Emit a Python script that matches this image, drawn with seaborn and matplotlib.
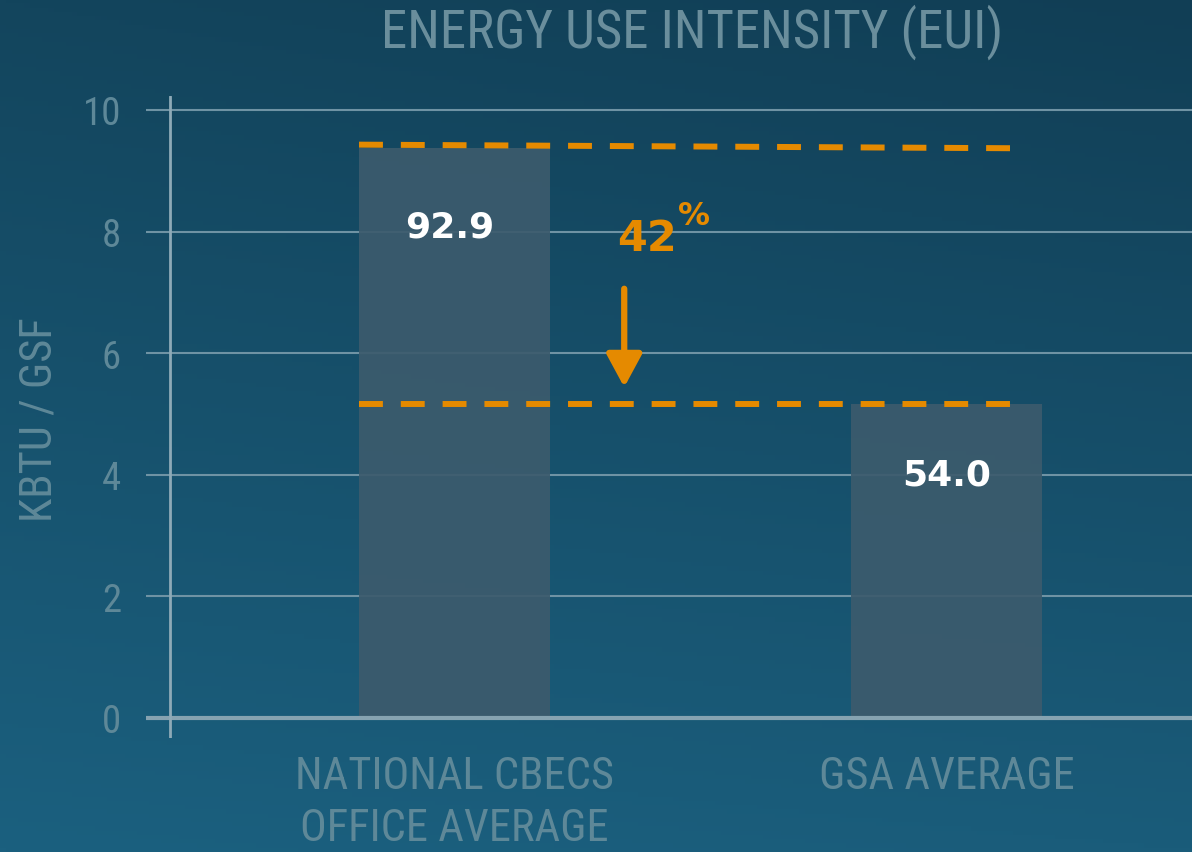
import numpy as np
import pandas as pd
import matplotlib
matplotlib.use("Agg")
import matplotlib.pyplot as plt
import seaborn as sns
from matplotlib.colors import to_rgb
from matplotlib import font_manager as fm

# ---- data ----
categories = ["NATIONAL CBECS\nOFFICE AVERAGE", "GSA AVERAGE"]
bar_heights = [9.38, 5.16]
value_labels = ["92.9", "54.0"]
top_line_levels = [9.43, 9.37]
bottom_line_levels = [5.16, 5.16]
reduction_label = "42"
yticks = [0, 2, 4, 6, 8, 10]
title = "ENERGY USE INTENSITY (EUI)"
ylabel = "KBTU / GSF"

sns.set_theme(style="white")
plt.rcParams['font.family'] = ['DejaVu Sans']


def pick_condensed():
    prefs = ['Roboto Condensed', 'Liberation Sans Narrow', 'Open Sans Condensed',
             'Noto Sans', 'DejaVu Sans', 'Open Sans', 'Roboto']
    found = {}
    for f in fm.fontManager.ttflist:
        fn = f.fname.lower()
        cond = ('condensed' in fn or 'narrow' in fn or 'condensed' in str(f.stretch))
        bad = any(k in fn for k in ['bold', 'italic', 'oblique', 'light', 'thin',
                                    'black', 'medium', 'semi', 'extra'])
        if cond and not bad and f.weight in (400, 'normal', 'regular'):
            found.setdefault(f.name, f.fname)
    for p in prefs:
        if p in found:
            return fm.FontProperties(fname=found[p])
    if found:
        return fm.FontProperties(fname=sorted(found.values())[0])
    return fm.FontProperties(family='Roboto')


cfont = pick_condensed()


def cf(size):
    fp = cfont.copy()
    fp.set_size(size)
    return fp


W, H = 1192, 853
fig = plt.figure(figsize=(W / 100, H / 100), dpi=100)

# background gradient
bg = fig.add_axes([0, 0, 1, 1])
bg.axis('off')
tl, tr = np.array(to_rgb('#13455d')), np.array(to_rgb('#113e55'))
bl, br = np.array(to_rgb('#1b607f')), np.array(to_rgb('#1a5c7a'))
u = np.linspace(0, 1, 200)[None, :, None]
v = np.linspace(0, 1, 200)[:, None, None]
img = (1 - v) * ((1 - u) * tl + u * tr) + v * ((1 - u) * bl + u * br)
bg.imshow(img, aspect='auto', extent=[0, 1, 0, 1], zorder=0)
bg.set_xlim(0, 1); bg.set_ylim(0, 1)

ax = fig.add_axes([146 / W, (H - 739) / H, (1192 - 146) / W, (739 - 97) / H])
ax.patch.set_alpha(0)

orange = '#e58a00'
muted = '#5e8898'

df = pd.DataFrame({'cat': categories, 'val': bar_heights})
sns.barplot(data=df, x='cat', y='val', color='#3c5b6d', width=0.388,
            saturation=1, linewidth=0, ax=ax, zorder=3, alpha=0.92)

ax.set_xlim(-0.627, 1.499)
ax.set_ylim(-0.329, 10.23)
for s in ax.spines.values():
    s.set_visible(False)

for y in yticks:
    if y == 0:
        ax.axhline(y, color='#86a3b1', lw=3, zorder=4)
    else:
        ax.axhline(y, color='#6f93a4', lw=1.5, zorder=1)
ax.axvline(-0.578, color='#8eaab7', lw=2, zorder=4)

ax.set_yticks(yticks)
ax.set_yticklabels([str(t) for t in yticks])
for lab in ax.get_yticklabels():
    lab.set_fontproperties(cf(28))
    lab.set_color(muted)
ax.tick_params(axis='y', length=0, pad=18)
ax.tick_params(axis='x', length=0, pad=12)
for lab in ax.get_xticklabels():
    lab.set_fontproperties(cf(32))
    lab.set_color(muted)
    lab.set_linespacing(1.3)
ax.set_xlabel('')
ax.set_ylabel('')

# dashed reference lines
x0 = -0.194
x1 = 1.153
ax.plot([x0, x1], top_line_levels, color=orange, lw=4.3,
        dashes=(4, 3), dash_capstyle='butt', zorder=5)
ax.plot([x0, x1], bottom_line_levels, color=orange, lw=4.3,
        dashes=(4, 3), dash_capstyle='butt', zorder=5)

# value labels
label_dx = [-0.01, 0.0]
label_dy = [1.3, 1.15]
for i, (h, lab) in enumerate(zip(bar_heights, value_labels)):
    ax.text(i + label_dx[i], h - label_dy[i], lab, ha='center', va='center',
            fontsize=26, color='white', fontweight='bold',
            family='DejaVu Sans', zorder=6)

# reduction annotation
ax.annotate('', xy=(0.345, 5.44), xytext=(0.345, 7.06),
            arrowprops=dict(arrowstyle='-|>,head_length=1.0,head_width=0.54',
                            color=orange, lw=4.5, mutation_scale=20,
                            shrinkA=0, shrinkB=0),
            zorder=6)
ax.text(0.452, 7.9, reduction_label, ha='right', va='center', fontsize=31,
        color=orange, fontweight='bold', family='DejaVu Sans', zorder=6)
ax.text(0.454, 8.27, '%', ha='left', va='center', fontsize=23,
        color=orange, fontweight='bold', family='DejaVu Sans', zorder=6)

fig.text(692 / W, 1 - 32 / H, title, ha='center', va='center',
         fontproperties=cf(38), color='#6a8e9c')
fig.text(40 / W, 1 - 420 / H, ylabel, ha='center', va='center',
         rotation=90, fontproperties=cf(32), color=muted)

fig.savefig('out.png', dpi=100)
